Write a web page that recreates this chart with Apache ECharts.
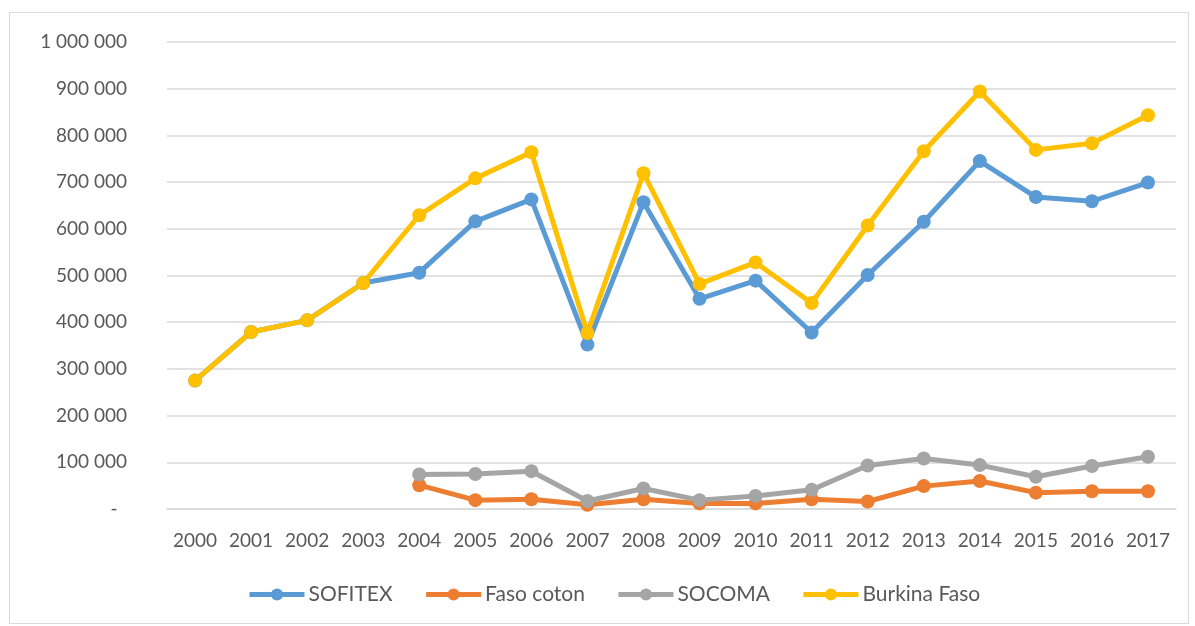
<!DOCTYPE html>
<html>
<head>
<meta charset="utf-8">
<script src="https://cdn.jsdelivr.net/npm/echarts@6/dist/echarts.min.js"></script>
<style>
  html, body { margin: 0; padding: 0; background: #fff; }
  #frame { position: absolute; left: 9px; top: 12px; width: 1178px; height: 610px; border: 1px solid #d9d9d9; }
  #main { position: absolute; left: 0; top: 0; width: 1195px; height: 626px; }
</style>
</head>
<body>
<div id="frame"></div>
<div id="main"></div>
<script>
var years = ['2000','2001','2002','2003','2004','2005','2006','2007','2008','2009','2010','2011','2012','2013','2014','2015','2016','2017'];
var sofitex = [275000, 379000, 404000, 484000, 506000, 616000, 663000, 352000, 657000, 450000, 489000, 378000, 501000, 615000, 745000, 668000, 659000, 699000];
var fasoCoton = [null, null, null, null, 51000, 19000, 21000, 9000, 21000, 12000, 12000, 21000, 16000, 49000, 60000, 35000, 38000, 38000];
var socoma = [null, null, null, null, 74000, 75000, 81000, 17000, 44000, 19000, 28000, 41000, 93000, 108000, 94000, 69000, 92000, 112000];
var burkina = [275000, 379000, 404000, 484000, 629000, 708000, 764000, 377000, 719000, 482000, 528000, 441000, 607000, 766000, 894000, 769000, 783000, 843000];

var chart = echarts.init(document.getElementById('main'));

// thousands separated by a space, zero shown as a dash (accounting style)
function fmt(v) {
    if (v === 0) return '-\u2002';
    return String(v).replace(/\B(?=(\d{3})+(?!\d))/g, ' ');
}

function line(name, data, color) {
    return {
        name: name,
        type: 'line',
        data: data,
        symbol: 'circle',
        symbolSize: 14,
        lineStyle: { width: 5, color: color },
        itemStyle: { color: color },
        emphasis: { disabled: true }
    };
}

var option = {
    animation: false,
    textStyle: { fontFamily: 'Lato, sans-serif' },
    grid: { left: 167, right: 19, top: 42, bottom: 117, containLabel: false },
    legend: {
        top: 579,
        left: 242,
        itemWidth: 55,
        itemHeight: 15,
        itemGap: 31,
        lineStyle: { width: 5 },
        textStyle: { color: '#595959', fontSize: 21, fontFamily: 'Lato, sans-serif', padding: [0, 0, 0, -1] },
        data: ['SOFITEX', 'Faso coton', 'SOCOMA', 'Burkina Faso']
    },
    xAxis: {
        type: 'category',
        data: years,
        boundaryGap: true,
        axisLine: { show: true, lineStyle: { color: '#d9d9d9', width: 1.5 } },
        axisTick: { show: false },
        axisLabel: { color: '#595959', fontSize: 19, margin: 22, interval: 0 }
    },
    yAxis: {
        type: 'value',
        min: 0,
        max: 1000000,
        interval: 100000,
        axisLine: { show: false },
        axisTick: { show: false },
        splitLine: { lineStyle: { color: '#d9d9d9', width: 1.5 } },
        axisLabel: { color: '#595959', fontSize: 19, margin: 40, formatter: fmt }
    },
    series: [
        line('SOFITEX', sofitex, '#5b9bd5'),
        line('Faso coton', fasoCoton, '#ed7d31'),
        line('SOCOMA', socoma, '#a5a5a5'),
        line('Burkina Faso', burkina, '#ffc000')
    ]
};

option && chart.setOption(option);
</script>
</body>
</html>
